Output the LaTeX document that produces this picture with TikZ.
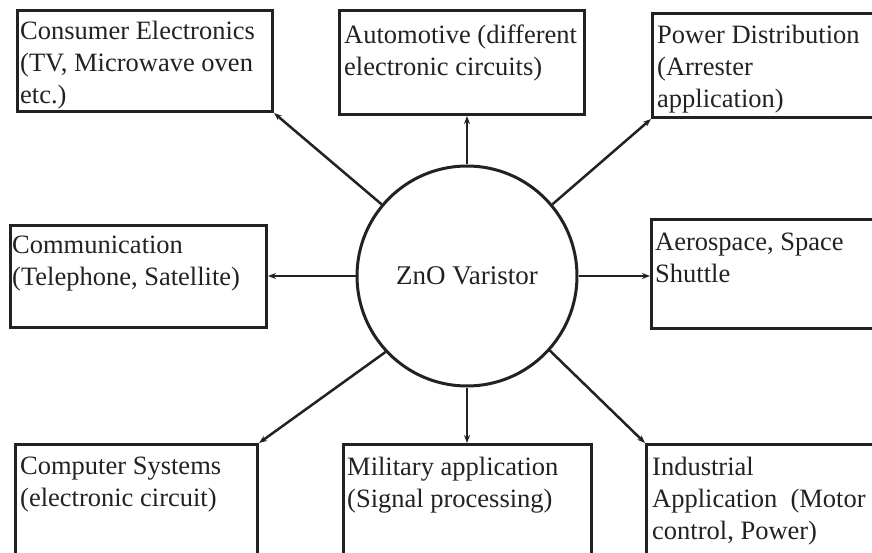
\documentclass[tikz,border=0pt]{standalone}
\usepackage{fontspec}
\setmainfont{Liberation Serif}
\usetikzlibrary{arrows.meta}
\definecolor{ink}{HTML}{222222}
\begin{document}
\begin{tikzpicture}[x=1pt,y=-1pt,
  box/.style={draw=ink,line width=3pt,rectangle,anchor=north west,inner sep=0pt},
  lbl/.style={anchor=north west,inner sep=0pt,align=left,text=ink,font=\fontsize{26.5}{32}\selectfont},
  arr/.style={draw=ink,line width=2.5pt,-{Stealth[length=8pt,width=6pt]}},
  hub/.style={circle,draw=ink,line width=3pt,minimum size=220pt,inner sep=0pt,text=ink,font=\fontsize{27}{32}\selectfont}]
\clip (0,0) rectangle (872,553);
\fill[white] (0,0) rectangle (872,553);
% boxes
\node[box,minimum width=255pt,minimum height=101pt] (cons) at (16,9) {};
\node[box,minimum width=245pt,minimum height=104pt] (auto) at (338,9) {};
\node[box,minimum width=240pt,minimum height=104pt] (powr) at (651,12) {};
\node[box,minimum width=256pt,minimum height=102pt] (comm) at (9,224) {};
\node[box,minimum width=240pt,minimum height=109pt] (aero) at (650,218) {};
\node[box,minimum width=242pt,minimum height=130pt] (comp) at (14,443) {};
\node[box,minimum width=248pt,minimum height=130pt] (mil) at (342,443) {};
\node[box,minimum width=240pt,minimum height=130pt] (ind) at (645,443) {};
% texts
\node[lbl] (tcons) at (20,21) {Consumer Electronics\\(TV, Microwave oven\\etc.)};
\node[lbl] (tauto) at (344,25) {Automotive (different\\electronic circuits)};
\node[lbl] (tpowr) at (657,25) {Power Distribution\\(Arrester\\application)};
\node[lbl] (tcomm) at (12,236) {Communication\\(Telephone, Satellite)};
\node[lbl] (taero) at (655,233) {Aerospace, Space\\Shuttle};
\node[lbl] (tcomp) at (20,457) {Computer Systems\\(electronic circuit)};
\node[lbl] (tmil) at (347,457) {Military application\\(Signal processing)};
\node[lbl] (tind) at (652,457) {Industrial\\Application\ \ (Motor\\control, Power)};
% hub
\node[hub] (zno) at (467,276) {ZnO Varistor};
% connectors
\draw[arr] (zno.140) -- (cons.south east);
\draw[arr] (zno.north) -- (zno.north |- auto.south);
\draw[arr] (zno.40) -- (powr.south west);
\draw[arr] (zno.west) -- (zno.west -| comm.east);
\draw[arr] (zno.east) -- (zno.east -| aero.west);
\draw[arr] (zno.223) -- (comp.north east);
\draw[arr] (zno.south) -- (zno.south |- mil.north);
\draw[arr] (zno.318) -- (ind.north west);
\end{tikzpicture}
\end{document}
